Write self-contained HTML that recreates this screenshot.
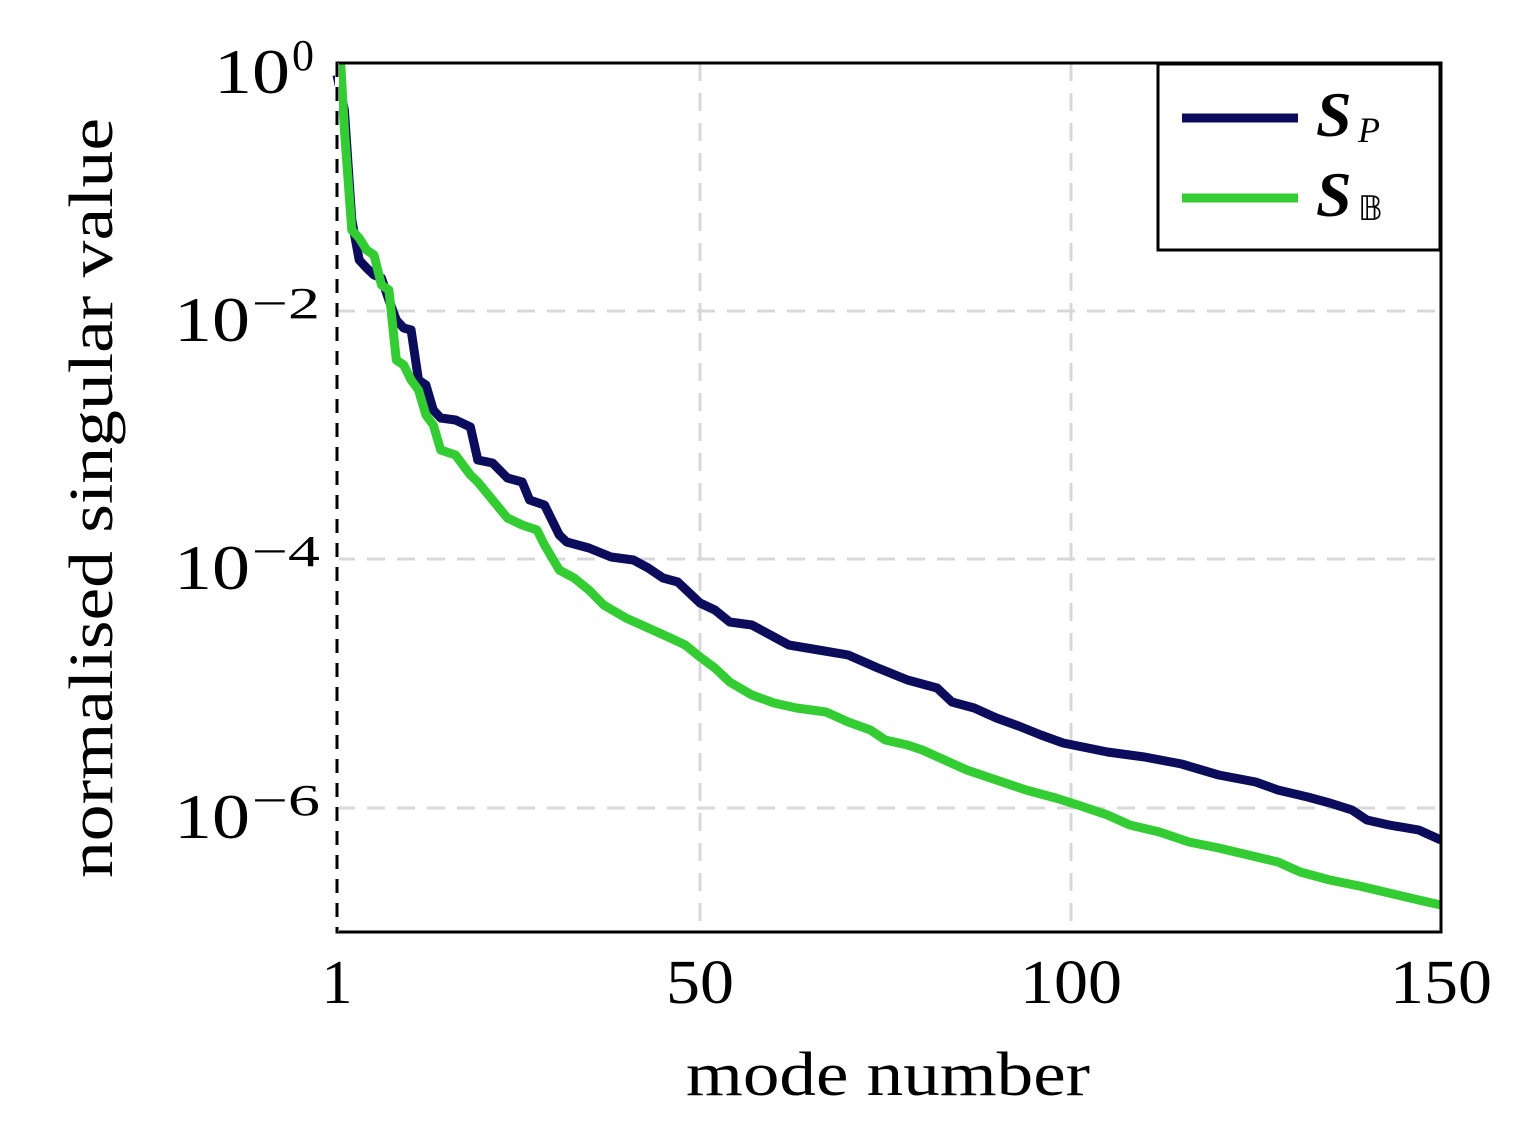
<!DOCTYPE html>
<html><head><meta charset="utf-8"><style>
body{margin:0;background:#fff;width:1522px;height:1135px;overflow:hidden}
svg{display:block}
text{font-family:"Liberation Serif",serif;fill:#000}
</style></head><body>
<svg id="s" width="1522" height="1135" viewBox="0 0 1522 1135">
<g stroke="#d8d8d8" stroke-width="3" stroke-dasharray="18,12">
<line x1="700" y1="63" x2="700" y2="932"/>
<line x1="1071" y1="63" x2="1071" y2="932"/>
<line x1="337" y1="311" x2="1441" y2="311"/>
<line x1="337" y1="559" x2="1441" y2="559"/>
<line x1="337" y1="808" x2="1441" y2="808"/>
</g>
<polyline id="sp" fill="none" stroke="#0c0c5c" stroke-width="9" stroke-linejoin="round"/>
<polyline id="sb" fill="none" stroke="#33cc33" stroke-width="9" stroke-linejoin="round"/>
<rect x="337" y="63" width="1104" height="869" fill="none" stroke="#000" stroke-width="3"/>
<line x1="337" y1="63" x2="337" y2="932" stroke="#fff" stroke-width="4"/>
<line x1="337" y1="63" x2="337" y2="932" stroke="#000" stroke-width="3" stroke-dasharray="14,10"/>
<rect x="1158" y="64" width="282" height="186" fill="#fff" stroke="#000" stroke-width="3"/>
<line x1="1182" y1="118" x2="1298" y2="118" stroke="#0c0c5c" stroke-width="9"/>
<line x1="1182" y1="198" x2="1298" y2="198" stroke="#33cc33" stroke-width="9"/>
<text x="1316" y="136" font-size="64" font-weight="bold" font-style="italic">S</text>
<text x="1358" y="142" font-size="36" font-style="italic">P</text>
<text x="1316" y="216" font-size="64" font-weight="bold" font-style="italic">S</text>
<text x="1358" y="220" font-size="34" font-family="DejaVu Sans">𝔹</text>
<g font-size="64">
<text x="214" y="93" textLength="76" lengthAdjust="spacingAndGlyphs">10</text><text x="292" y="70" font-size="44">0</text>
<text x="174" y="341" textLength="76" lengthAdjust="spacingAndGlyphs">10</text><text x="252" y="318" font-size="44" textLength="68" lengthAdjust="spacingAndGlyphs">−2</text>
<text x="174" y="589" textLength="76" lengthAdjust="spacingAndGlyphs">10</text><text x="252" y="566" font-size="44" textLength="68" lengthAdjust="spacingAndGlyphs">−4</text>
<text x="174" y="838" textLength="76" lengthAdjust="spacingAndGlyphs">10</text><text x="252" y="815" font-size="44" textLength="68" lengthAdjust="spacingAndGlyphs">−6</text>
</g>
<g font-size="62" text-anchor="middle">
<text x="337" y="1003">1</text>
<text x="700" y="1003" textLength="68" lengthAdjust="spacingAndGlyphs">50</text>
<text x="1071" y="1003" textLength="102" lengthAdjust="spacingAndGlyphs">100</text>
<text x="1441" y="1003" textLength="102" lengthAdjust="spacingAndGlyphs">150</text>
<text x="888" y="1095" textLength="404" lengthAdjust="spacingAndGlyphs">mode number</text>
<text transform="translate(112,498) rotate(-90)" textLength="760" lengthAdjust="spacingAndGlyphs">normalised singular value</text>
</g>
</svg>
<script>
function pts(a){var r=[];for(var i=0;i<a.length;i+=2){r.push((337+(a[i]-1)*7.409).toFixed(1)+","+a[i+1]);}return r.join(" ");}
var sp=[1,75,2,110,3,220,4,260,5,268,6,275,7,278,8,300,9,320,10,328,11,330,12,380,13,385,14,410,15,418,17,420,19,427,20,460,22,463,24,478,26,482,27,500,29,505,31,535,32,542,35,548,38,557,41,560,43,568,45,578,47,582,50,603,52,610,54,622,57,625,60,637,62,645,66,650,70,655,74,668,78,680,82,688,84,702,87,708,90,718,93,726,96,735,99,743,101,746,105,752,110,757,115,764,120,775,125,782,128,790,132,797,135,803,138,810,140,820,143,825,147,830,150,840];
var sb=[1.5,63,2,130,3,230,4,238,5,250,6,255,7,285,8,290,9,360,10,365,11,380,12,390,13,415,14,425,15,450,17,455,19,475,20,482,22,500,24,518,26,525,28,530,29,545,31,570,33,578,35,590,37,605,40,618,43,628,46,638,48,645,50,657,52,668,54,682,57,695,60,703,63,708,67,712,70,722,73,730,75,740,78,745,80,750,83,760,86,770,90,780,94,790,98,798,101,805,105,815,108,825,112,832,116,842,120,848,124,855,128,862,131,872,135,880,139,886,143,893,147,900,150,905];
document.getElementById("sp").setAttribute("points",pts(sp));
document.getElementById("sb").setAttribute("points",pts(sb));
</script>
</body></html>
